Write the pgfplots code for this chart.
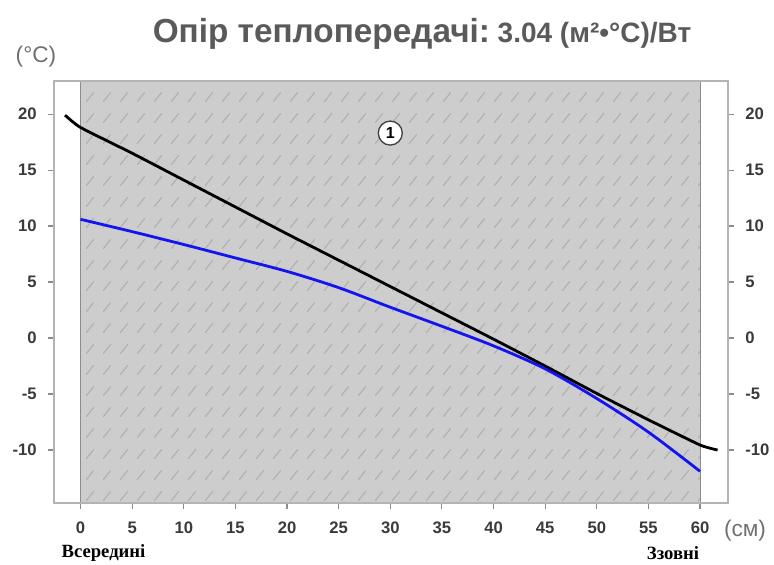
\documentclass[border=0pt]{standalone}
\usepackage{fontspec}
\setmainfont{Liberation Sans}
\newfontfamily\serifb{Liberation Serif}
\usepackage{pgfplots}
\pgfplotsset{compat=1.18}
\usetikzlibrary{patterns.meta}
\definecolor{framegray}{HTML}{B4B4B4}
\definecolor{zonegray}{HTML}{CDCDCD}
\definecolor{hatchgray}{HTML}{AEAEAE}
\definecolor{edgegray}{HTML}{8C8C8C}
\definecolor{titlegray}{HTML}{5A5A5A}
\definecolor{labgray}{HTML}{3A3A3A}
\definecolor{unitgray}{HTML}{707070}
\definecolor{tempblue}{HTML}{1414F0}
\tikzdeclarepattern{
  name=dashhatch,
  type=uncolored,
  bounding box={(0pt,0pt) and (13pt,16pt)},
  tile size={(13pt,16pt)},
  code={\draw[line width=0.8pt] (0pt,0pt) -- (6pt,7.4pt);}
}
\pgfplotstableread{
x y
-1.5 19.9
0 18.8
5 16.5
10 14.1
15 11.7
20 9.3
25 6.95
30 4.6
35 2.25
40 -0.1
45 -2.5
50 -4.95
55 -7.3
60 -9.55
61.7 -10.0
}\blackline
\pgfplotstableread{
x y
0 10.6
5 9.5
10 8.35
15 7.15
20 5.95
25 4.5
30 2.75
35 1.05
40 -0.7
45 -2.75
50 -5.4
55 -8.4
60 -11.9
}\blueline
\begin{document}
\begin{tikzpicture}
\useasboundingbox (-40.5pt,-45.75pt) rectangle (540pt,377.25pt);
\begin{axis}[
  at={(0pt,0pt)}, anchor=south west,
  scale only axis, width=505.5pt, height=316.5pt,
  xmin=-2.57, xmax=62.71, ymin=-14.73, ymax=22.95,
  axis on top,
  axis line style={framegray, line width=0.8pt},
  xtick={0,5,...,60}, ytick={-10,-5,...,20},
  xtick pos=bottom, ytick pos=left,
  tick align=outside, major tick length=4.5pt,
  tick style={edgegray, line width=0.8pt},
  ticklabel style={font=\bfseries\fontsize{12.5}{14}\selectfont, text=labgray},
  /pgf/number format/assume math mode=true,
  xticklabel style={yshift=-6pt, text height=9pt, text depth=0pt},
  yticklabel style={xshift=-5pt},
  clip=false,
]
\fill[zonegray] (axis cs:0,-14.73) rectangle (axis cs:60,22.95);
\fill[pattern=dashhatch, pattern color=hatchgray] (axis cs:0,-14.73) rectangle (axis cs:60,22.95);
\draw[edgegray, line width=0.6pt] (axis cs:0,-14.73) -- (axis cs:0,22.95);
\draw[edgegray, line width=0.6pt] (axis cs:60,-14.73) -- (axis cs:60,22.95);
\addplot[black, line width=2.1pt, smooth, tension=0.3] table[x=x,y=y] {\blackline};
\addplot[tempblue, line width=2.1pt, smooth] table[x=x,y=y] {\blueline};
\node[circle, draw=black!75, line width=1pt, fill=white, inner sep=1pt, minimum size=18pt, font=\bfseries\fontsize{12}{14}\selectfont] at (axis cs:30,18.3) {1};
\end{axis}
\begin{axis}[
  at={(0pt,0pt)}, anchor=south west,
  scale only axis, width=505.5pt, height=316.5pt,
  xmin=-2.57, xmax=62.71, ymin=-14.73, ymax=22.95,
  axis x line=none, axis y line*=right,
  axis line style={framegray, line width=0.8pt},
  ytick={-10,-5,...,20},
  tick align=outside, major tick length=4.5pt,
  tick style={edgegray, line width=0.8pt},
  ticklabel style={font=\bfseries\fontsize{12.5}{14}\selectfont, text=labgray},
  /pgf/number format/assume math mode=true,
  yticklabel style={xshift=5pt},
]
\addplot[draw=none] coordinates {(0,0)};
\end{axis}
\node[anchor=base, text=titlegray] at (276pt,345pt) {\bfseries\fontsize{25}{29}\selectfont Опір теплопередачі:{\fontsize{21}{25}\selectfont\ 3.04 (м²•°C)/Вт}};
\node[text=unitgray, font=\fontsize{17}{20}\selectfont] at (-13.5pt,334.5pt) {(°C)};
\node[text=unitgray, font=\fontsize{17}{20}\selectfont] at (518.25pt,-21pt) {(см)};
\node[font=\serifb\bfseries\fontsize{14}{16}\selectfont] at (37.1pt,-37.5pt) {Всередині};
\node[font=\serifb\bfseries\fontsize{14}{16}\selectfont] at (464.25pt,-37.5pt) {Ззовні};
\end{tikzpicture}
\end{document}
